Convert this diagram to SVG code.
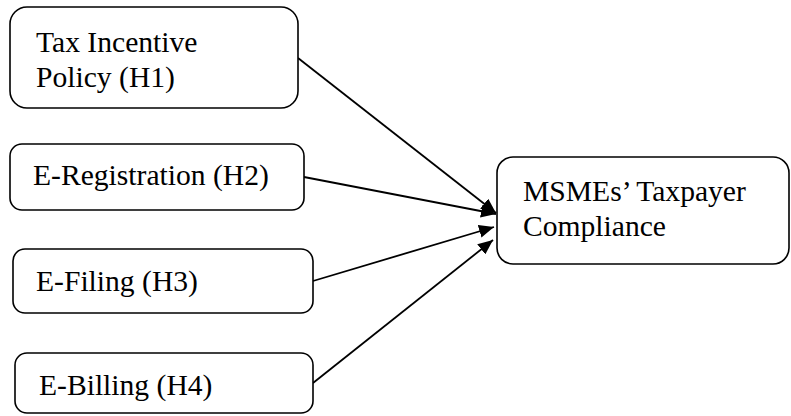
<svg xmlns="http://www.w3.org/2000/svg" width="791" height="416" viewBox="0 0 791 416">
<style>
.box{fill:#fff;stroke:#000;stroke-width:1.6}
.t{font-family:"Liberation Serif","Times New Roman",serif;font-size:29.6px;fill:#000}
.c{stroke:#000;stroke-width:1.8;fill:none;marker-end:url(#ah)}
</style>
<defs>
<marker id="ah" viewBox="0 0 15 13" refX="15" refY="6.5" markerWidth="15" markerHeight="13" markerUnits="userSpaceOnUse" orient="auto">
<path d="M0,0 L15,6.5 L0,13 Z" fill="#000"/>
</marker>
</defs>
<rect width="791" height="416" fill="#fff"/>
<g id="connectors">
<line class="c" x1="298" y1="58" x2="496" y2="213"/>
<line class="c" x1="304" y1="177" x2="496" y2="214"/>
<line class="c" x1="313" y1="281" x2="494" y2="227"/>
<line class="c" x1="313" y1="383" x2="493" y2="240"/>
</g>
<g id="h1">
<rect class="box" x="10" y="7" width="288" height="101" rx="17"/>
<text class="t" x="36" y="52">Tax Incentive</text>
<text class="t" x="36" y="87">Policy (H1)</text>
</g>
<g id="h2">
<rect class="box" x="10" y="144" width="294" height="66" rx="12"/>
<text class="t" x="33" y="185">E-Registration (H2)</text>
</g>
<g id="h3">
<rect class="box" x="13" y="249" width="300" height="64" rx="12"/>
<text class="t" x="36" y="291">E-Filing (H3)</text>
</g>
<g id="h4">
<rect class="box" x="15" y="353" width="298" height="60" rx="12"/>
<text class="t" x="39" y="395">E-Billing (H4)</text>
</g>
<g id="msme">
<rect class="box" x="497" y="157" width="292" height="107" rx="16"/>
<text class="t" x="523" y="201">MSMEs’ Taxpayer</text>
<text class="t" x="523" y="236">Compliance</text>
</g>
</svg>
